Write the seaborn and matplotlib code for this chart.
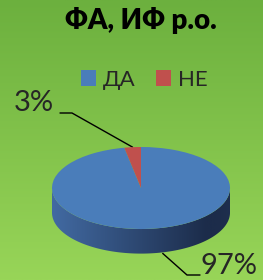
import numpy as np
import matplotlib
matplotlib.use('Agg')
import matplotlib.pyplot as plt
from matplotlib.patches import Patch, Polygon
import seaborn as sns

# data
categories = ['ДА', 'НЕ']
values = [97, 3]
pct_labels = ['97%', '3%']
title = 'ФА, ИФ р.о.'
colors = ['#4a7dba', '#c0504d']

sns.set_theme(style='white')
plt.rcParams['font.family'] = ['Lato', 'DejaVu Sans']

W, H = 263, 280
fig = plt.figure(figsize=(W / 100, H / 100), dpi=100)

# background gradient
bg = fig.add_axes([0, 0, 1, 1])
grad = np.linspace(0, 1, 256)[:, None]
top = np.array([0x6c, 0xb0, 0x3e]) / 255
bot = np.array([0x98, 0xd5, 0x58]) / 255
img = top + grad[..., None] * (bot - top)
img = np.repeat(img, 2, axis=1)
bg.imshow(img, extent=[0, W, H, 0], aspect='auto')
bg.set_xlim(0, W)
bg.set_ylim(H, 0)
bg.axis('off')

# pie axes: unit circle squashed into an ellipse
cx, cy, rx, ry = 141, 188, 89, 41
depth = 0.6
ylo = -1 - depth - 0.05
ax = fig.add_axes([(cx - rx) / W, (H - (cy + ry * (1 - ylo) - ry)) / H,
                   2 * rx / W, ry * (1 - ylo) / H])

# side wall of the disc
t = np.linspace(np.pi, 2 * np.pi, 200)
xs = np.concatenate([np.cos(t), np.cos(t[::-1])])
ys = np.concatenate([np.sin(t), np.sin(t[::-1]) - depth])
side = Polygon(np.column_stack([xs, ys]), closed=True, facecolor='none', edgecolor='none')
ax.add_patch(side)
gx = np.linspace(0, 1, 300)
c0 = np.array([0x42, 0x6a, 0xa2]) / 255
c1 = np.array([0x1c, 0x2c, 0x4a]) / 255
shade = np.clip(gx * 1.15, 0, 1)[None, :, None]
simg = c0 + shade * (c1 - c0)
edge = gx > 0.93
simg[0, edge] = simg[0, edge] + (gx[edge, None] - 0.93) * 1.5 * (np.array([0x30, 0x48, 0x70]) / 255 - simg[0, edge])
im = ax.imshow(np.repeat(simg, 2, axis=0), extent=[-1, 1, -1 - depth, 0], aspect='auto', zorder=1)
im.set_clip_path(side)

# top face
wedges, _ = ax.pie(values, colors=colors, startangle=90, counterclock=False,
                   radius=1, center=(0, 0), frame=True,
                   wedgeprops=dict(linewidth=0, zorder=2))
ax.set_xlim(-1, 1)
ax.set_ylim(ylo, 1)
ax.set_aspect('auto')
ax.axis('off')

# title and legend
fig.text(cx / W, 1 - 21 / H, title, ha='center', va='center',
         fontsize=20, fontweight='heavy', color='black')
handles = [Patch(facecolor=c, edgecolor='none') for c in colors]
fig.legend(handles, categories, loc='center', bbox_to_anchor=(144 / W, 1 - 80 / H),
           ncol=2, frameon=False, fontsize=16, handlelength=0.7, handleheight=0.7,
           handletextpad=0.3, columnspacing=0.9)


def to_px(x, y):
    p = ax.transData.transform((x, y))
    return bg.transData.inverted().transform(p)


# leader lines and percentage labels
frac = np.cumsum([0] + values) / sum(values)
mid = [90 - 360 * (frac[i] + frac[i + 1]) / 2 for i in range(len(values))]

# 97%: from bottom edge of the side wall
a = np.deg2rad(mid[0])
px, py = to_px(np.cos(a) + 0.15, np.sin(a) - depth)
bg.plot([px, 187, 200], [py, 275, 275], color='black', lw=1)
bg.text(201, 266, pct_labels[0], ha='left', va='center', fontsize=21)

# 3%: from the top edge of the small wedge
a = np.deg2rad(mid[1])
px, py = to_px(np.cos(a), np.sin(a))
bg.plot([px, 72, 60], [py, 113, 113], color='black', lw=1)
bg.text(14, 103, pct_labels[1], ha='left', va='center', fontsize=21)

fig.savefig('out.png', dpi=100)
